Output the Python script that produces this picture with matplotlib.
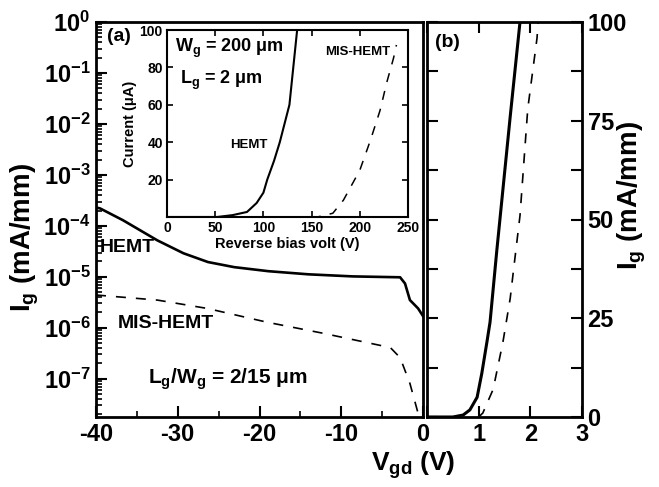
import numpy as np
import matplotlib
matplotlib.use("Agg")
import matplotlib.pyplot as plt

plt.rcParams['font.family'] = ['Liberation Sans', 'DejaVu Sans']
plt.rcParams['font.weight'] = 'bold'
plt.rcParams['axes.labelweight'] = 'bold'
plt.rcParams['mathtext.fontset'] = 'custom'
plt.rcParams['mathtext.rm'] = 'Liberation Sans:bold'
plt.rcParams['mathtext.bf'] = 'Liberation Sans:bold'
plt.rcParams['mathtext.it'] = 'Liberation Sans:bold'

# (a) reverse gate leakage, log scale
v_hemt_a = [-40, -39.5, -36.7, -32.5, -29.3, -26.3, -23.1, -18.9, -14, -8.6, -2.8, -2.2, -1.6, -0.6, 0]
i_hemt_a = [2.3e-4, 2.2e-4, 1.29e-4, 5.2e-5, 2.9e-5, 1.95e-5, 1.55e-5, 1.29e-5, 1.12e-5, 1.02e-5, 9.8e-6, 7.4e-6, 3.5e-6, 2.4e-6, 1.7e-6]
v_mis_a = [-40, -32.5, -26.4, -19.1, -12.2, -4.0, -2.8, -1.6, -0.6, -0.1]
i_mis_a = [4.4e-6, 3.5e-6, 2.4e-6, 1.29e-6, 7.8e-7, 4.1e-7, 2.6e-7, 8.1e-8, 2.1e-8, 1.0e-8]

# (b) forward gate current, linear
v_hemt_b = [0, 0.5, 0.70, 0.83, 0.97, 1.06, 1.16, 1.22, 1.35, 1.61, 1.80]
i_hemt_b = [0, 0, 0.5, 1.8, 5, 11, 19, 24, 42, 76, 100]
v_mis_b = [1.0, 1.08, 1.28, 1.47, 1.61, 1.70, 1.80, 1.95, 2.13, 2.15]
i_mis_b = [0, 1, 7, 19, 30, 40, 51, 78, 96, 100]

# inset: reverse bias current (uA)
v_hemt_in = [0, 52, 68, 83, 93, 100, 104, 111, 117, 127, 131, 135]
i_hemt_in = [0, 0, 1, 2.7, 7.5, 13, 20, 30, 40, 60, 80, 100]
v_mis_in = [150, 156, 172, 183, 200, 211, 221, 228, 235, 238]
i_mis_in = [0, 0, 2, 9, 25, 41, 57, 72, 85, 92]

W, H = 659, 487
fig = plt.figure(figsize=(W / 100, H / 100), dpi=100)

def box(l, t, r, b):
    return [l / W, 1 - b / H, (r - l) / W, (b - t) / H]

ax1 = fig.add_axes(box(96, 22, 423, 417))
ax2 = fig.add_axes(box(427, 22, 582, 417))
axi = fig.add_axes(box(167, 30, 408, 217))

for ax in (ax1, ax2):
    for s in ax.spines.values():
        s.set_linewidth(2)
    ax.tick_params(which='major', direction='in', length=8, width=1.5, labelsize=17, pad=4)
    ax.tick_params(which='minor', direction='in', length=4, width=1.2)

# panel (a)
ax1.plot(v_hemt_a, i_hemt_a, 'k-', lw=1.9)
ax1.plot(v_mis_a, i_mis_a, 'k--', lw=1.2, dashes=(6, 6))
ax1.set_yscale('log')
ax1.set_xlim(-40, 0)
ax1.set_ylim(10 ** -7.75, 1)
ax1.set_xticks([-40, -30, -20, -10, 0])
ax1.set_xticks([-35, -25, -15, -5], minor=True)
ax1.set_xticklabels(['-40', '-30', '-20', '-10', '0'])
dec = [0, -1, -2, -3, -4, -5, -6, -7]
ax1.set_yticks([10.0 ** d for d in dec])
ax1.set_yticklabels([r'$\mathrm{10^{%d}}$' % d for d in dec])
ax1.yaxis.set_minor_locator(matplotlib.ticker.LogLocator(base=10, subs=np.arange(2, 10), numticks=20))
ax1.yaxis.set_minor_formatter(matplotlib.ticker.NullFormatter())
ax1.tick_params(axis='y', which='both', right=False)
ax1.tick_params(axis='x', which='both', top=False)

ax1.text(-38.7, 0.53, '(a)', fontsize=14, va='center', ha='left')
ax1.text(-39.5, 3.8e-5, 'HEMT', fontsize=14, va='center', ha='left')
ax1.text(-37.3, 1.2e-6, 'MIS-HEMT', fontsize=14, va='center', ha='left')
ax1.text(-33.6, 1.0e-7, r'L$_\mathrm{g}$/W$_\mathrm{g}$ = 2/15 μm', fontsize=15, va='center', ha='left')

# panel (b)
ax2.plot(v_hemt_b, i_hemt_b, 'k-', lw=2.2)
ax2.plot(v_mis_b, i_mis_b, 'k--', lw=1.2, dashes=(6, 6))
ax2.set_xlim(0, 3)
ax2.set_ylim(0, 100)
ax2.set_xticks([0, 1, 2, 3])
ax2.set_xticklabels(['', '1', '2', '3'])
ax2.set_yticks([0, 25, 50, 75, 100])
ax2.set_yticks([12.5, 37.5, 62.5, 87.5], minor=True)
ax2.tick_params(axis='y', which='both', left=True, right=True, labelleft=False, labelright=True)
ax2.tick_params(axis='y', which='minor', length=8, width=1.5)
ax2.tick_params(axis='x', which='major', top=True)
ax2.text(0.15, 94.7, '(b)', fontsize=14, va='center', ha='left')

# inset
axi.plot(v_hemt_in, i_hemt_in, 'k-', lw=1.5)
axi.plot(v_mis_in, i_mis_in, 'k--', lw=1.1, dashes=(6, 6))
axi.set_xlim(0, 250)
axi.set_ylim(0, 100)
axi.set_xticks([0, 50, 100, 150, 200, 250])
axi.set_yticks([20, 40, 60, 80, 100])
for s in axi.spines.values():
    s.set_linewidth(1.5)
axi.tick_params(direction='in', length=4, width=1.2, labelsize=10, pad=3, top=True, right=True)
for lab in axi.get_xticklabels() + axi.get_yticklabels():
    lab.set_fontweight('bold')
axi.set_xlabel('Reverse bias volt (V)', fontsize=10.5, fontweight='bold', labelpad=1)
axi.set_ylabel('Current (μA)', fontsize=10.5, fontweight='bold', labelpad=2)
axi.text(8, 90.4, r'W$_\mathrm{g}$ = 200 μm', fontsize=13, va='center', ha='left')
axi.text(13.5, 73, r'L$_\mathrm{g}$ = 2 μm', fontsize=13, va='center', ha='left')
axi.text(85, 38.5, 'HEMT', fontsize=9.5, va='center', ha='center')
axi.text(198, 88, 'MIS-HEMT', fontsize=9.5, va='center', ha='center')

# axis labels
fig.text(413 / W, 1 - 465 / H, r'V$_\mathrm{gd}$ (V)', fontsize=19, ha='center', va='center')
fig.text(25 / W, 1 - 237 / H, r'I$_\mathrm{g}$ (mA/mm)', fontsize=20, ha='center', va='center', rotation=90)
fig.text(632 / W, 1 - 195 / H, r'I$_\mathrm{g}$ (mA/mm)', fontsize=20, ha='center', va='center', rotation=90)

fig.savefig('out.png', dpi=100)
